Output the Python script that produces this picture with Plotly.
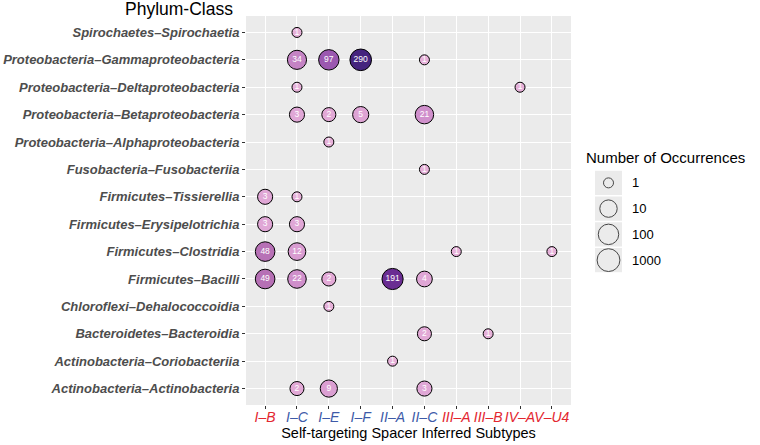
import math
import plotly.graph_objects as go

# ---------------- data ----------------
subtypes = ["I–B", "I–C", "I–E", "I–F", "II–A", "II–C", "III–A", "III–B", "IV–A", "V–U4"]
subtype_colors = ["#e3262f", "#3d5aa8", "#3d5aa8", "#3d5aa8", "#3d5aa8", "#3d5aa8",
                  "#e3262f", "#e3262f", "#e3262f", "#e3262f"]

phylum_classes = [  # bottom -> top
    "Actinobacteria–Actinobacteria",
    "Actinobacteria–Coriobacteriia",
    "Bacteroidetes–Bacteroidia",
    "Chloroflexi–Dehalococcoidia",
    "Firmicutes–Bacilli",
    "Firmicutes–Clostridia",
    "Firmicutes–Erysipelotrichia",
    "Firmicutes–Tissierellia",
    "Fusobacteria–Fusobacteriia",
    "Proteobacteria–Alphaproteobacteria",
    "Proteobacteria–Betaproteobacteria",
    "Proteobacteria–Deltaproteobacteria",
    "Proteobacteria–Gammaproteobacteria",
    "Spirochaetes–Spirochaetia",
]

point_class = [
    "Spirochaetes–Spirochaetia",
    "Proteobacteria–Gammaproteobacteria", "Proteobacteria–Gammaproteobacteria",
    "Proteobacteria–Gammaproteobacteria", "Proteobacteria–Gammaproteobacteria",
    "Proteobacteria–Deltaproteobacteria", "Proteobacteria–Deltaproteobacteria",
    "Proteobacteria–Betaproteobacteria", "Proteobacteria–Betaproteobacteria",
    "Proteobacteria–Betaproteobacteria", "Proteobacteria–Betaproteobacteria",
    "Proteobacteria–Alphaproteobacteria",
    "Fusobacteria–Fusobacteriia",
    "Firmicutes–Tissierellia", "Firmicutes–Tissierellia",
    "Firmicutes–Erysipelotrichia", "Firmicutes–Erysipelotrichia",
    "Firmicutes–Clostridia", "Firmicutes–Clostridia", "Firmicutes–Clostridia", "Firmicutes–Clostridia",
    "Firmicutes–Bacilli", "Firmicutes–Bacilli", "Firmicutes–Bacilli", "Firmicutes–Bacilli", "Firmicutes–Bacilli",
    "Chloroflexi–Dehalococcoidia",
    "Bacteroidetes–Bacteroidia", "Bacteroidetes–Bacteroidia",
    "Actinobacteria–Coriobacteriia",
    "Actinobacteria–Actinobacteria", "Actinobacteria–Actinobacteria", "Actinobacteria–Actinobacteria",
]
point_subtype = [
    "I–C",
    "I–C", "I–E", "I–F", "II–C",
    "I–C", "IV–A",
    "I–C", "I–E", "I–F", "II–C",
    "I–E",
    "II–C",
    "I–B", "I–C",
    "I–B", "I–C",
    "I–B", "I–C", "III–A", "V–U4",
    "I–B", "I–C", "I–E", "II–A", "II–C",
    "I–E",
    "II–C", "III–B",
    "II–A",
    "I–C", "I–E", "II–C",
]
point_count = [
    1,
    34, 97, 290, 1,
    1, 1,
    3, 2, 5, 21,
    1,
    1,
    3, 1,
    3, 3,
    48, 12, 1, 1,
    49, 22, 2, 191, 4,
    1,
    2, 1,
    1,
    2, 9, 3,
]

legend_values = [1, 10, 100, 1000]

# ---------------- styling helpers ----------------
FONT = "Liberation Sans, Arial, Helvetica, sans-serif"
W, H = 760, 445
ML, MR, MT, MB = 246, 20, 16, 40
PW, PH = W - ML - MR, H - MT - MB


def px_x(px):
    return (px - ML) / PW


def px_y(py):
    return (H - MB - py) / PH


def diam(c):
    return 11 + 7.4 * math.sqrt(math.log10(c)) - 1


fill_scale = [
    [0.0, "#e6b1d9"],
    [0.004, "#e1a8d6"],
    [0.073, "#cf8fcb"],
    [0.114, "#c483c4"],
    [0.166, "#b670b5"],
    [0.332, "#9b58b0"],
    [0.657, "#6a2d92"],
    [1.0, "#45247e"],
]

fig = go.Figure()

fig.add_trace(go.Scatter(
    x=point_subtype, y=point_class, mode="markers+text",
    text=[str(c) for c in point_count],
    textfont=dict(family=FONT, size=8.5, color="white"),
    textposition="middle center",
    marker=dict(size=[diam(c) for c in point_count], sizemode="diameter",
                color=point_count, colorscale=fill_scale, cmin=1, cmax=max(point_count),
                line=dict(color="black", width=1), opacity=1),
    showlegend=False, hoverinfo="x+y+text", cliponaxis=False,
))

# legend (size) drawn on its own small axis
fig.add_trace(go.Scatter(
    x=[0] * len(legend_values), y=list(range(len(legend_values))), mode="markers",
    marker=dict(size=[diam(v) for v in legend_values], color="rgba(0,0,0,0)",
                line=dict(color="black", width=1)),
    xaxis="x2", yaxis="y2", showlegend=False, hoverinfo="skip", cliponaxis=False,
))

shapes = [dict(type="rect", xref="x domain", yref="y domain", x0=0, x1=1, y0=0, y1=1,
               fillcolor="#ebebeb", line=dict(width=0), layer="below")]
for i in range(len(legend_values)):
    shapes.append(dict(type="rect", xref="x2", yref="y2", x0=-0.5, x1=0.5,
                       y0=i - 0.47, y1=i + 0.47, fillcolor="#ebebeb",
                       line=dict(width=0), layer="below"))

x_main_dom = [0, px_x(571)]
fig.update_layout(
    width=W, height=H,
    margin=dict(l=ML, r=MR, t=MT, b=MB, autoexpand=False),
    paper_bgcolor="white", plot_bgcolor="white",
    font=dict(family=FONT, color="black"),
    shapes=shapes,
    xaxis=dict(
        domain=x_main_dom,
        type="category", categoryorder="array", categoryarray=subtypes,
        range=[-0.6, len(subtypes) - 0.4],
        tickvals=subtypes, tickangle=0, automargin=False,
        ticktext=[f"<span style='color:{c}'>{s}</span>" for s, c in zip(subtypes, subtype_colors)],
        tickfont=dict(family=FONT, size=14, style="italic"),
        ticklabelstandoff=-4,
        showgrid=True, gridcolor="white", gridwidth=1.1,
        zeroline=False, showline=False,
        ticks="outside", ticklen=3, tickcolor="#333333", tickwidth=1,
        title=dict(text="Self-targeting Spacer Inferred Subtypes",
                   font=dict(family=FONT, size=14.5, color="black"), standoff=3),
        fixedrange=True,
    ),
    yaxis=dict(
        type="category", categoryorder="array", categoryarray=phylum_classes,
        range=[-0.6, len(phylum_classes) - 0.4], automargin=False,
        tickfont=dict(family=FONT, size=13, color="#4d4d4d", style="italic", weight="bold"),
        showgrid=True, gridcolor="white", gridwidth=1.1,
        zeroline=False, showline=False,
        ticks="outside", ticklen=3, tickcolor="#333333", tickwidth=1,
        fixedrange=True,
    ),
    xaxis2=dict(domain=[px_x(595), px_x(622)], range=[-0.5, 0.5], anchor="y2",
                showgrid=False, zeroline=False, showticklabels=False, ticks="",
                showline=False, fixedrange=True, automargin=False),
    yaxis2=dict(domain=[px_y(273), px_y(170)], range=[len(legend_values) - 0.5, -0.5],
                anchor="x2", side="right", automargin=False,
                tickvals=list(range(len(legend_values))),
                ticktext=[str(v) for v in legend_values],
                tickfont=dict(family=FONT, size=13, color="black"),
                ticks="", ticklabelstandoff=9,
                showgrid=False, zeroline=False, showline=False, fixedrange=True),
    annotations=[
        dict(text="Phylum-Class", xref="paper", yref="paper", x=px_x(235), y=px_y(9),
             xanchor="right", yanchor="middle", showarrow=False,
             font=dict(family=FONT, size=17.5, color="black")),
        dict(text="Number of Occurrences", xref="paper", yref="paper", x=px_x(584), y=px_y(157),
             xanchor="left", yanchor="middle", showarrow=False,
             font=dict(family=FONT, size=15, color="black")),
    ],
)

fig.write_html("out.html", config={"displayModeBar": False},
               post_script="document.body.style.margin='0px';document.body.style.overflow='hidden';")
